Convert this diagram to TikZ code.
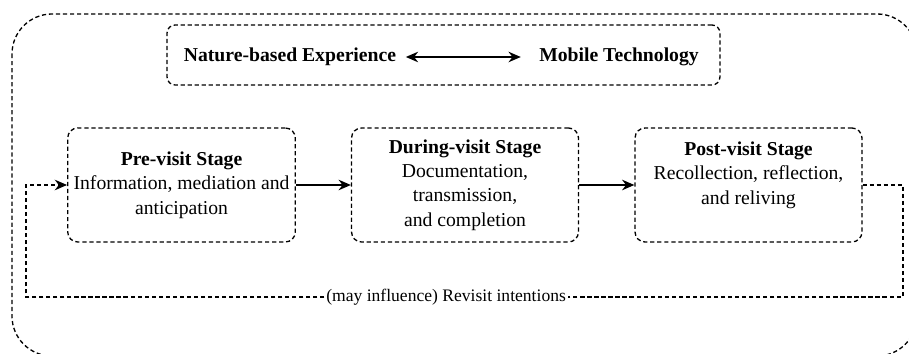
\documentclass[tikz,border=0pt]{standalone}
\usepackage{fontspec}
\setmainfont{Liberation Serif}
\usetikzlibrary{arrows.meta}

\begin{document}
\begin{tikzpicture}[
        x=0.02cm, y=-0.02cm,
        txt/.style={font=\fontsize{11.2pt}{13.9pt}\selectfont},
        dashline/.style={dash pattern=on 2.4pt off 1.6pt, line width=0.75pt},
        stage/.style={txt, dashline, draw, rounded corners=0.2cm, align=center, minimum width=4.54cm, minimum height=2.28cm},
        topbox/.style={dashline, draw, rounded corners=0.16cm, minimum width=11.06cm, minimum height=1.2cm},
        arrow/.style={-{Stealth[length=7pt, width=6pt]}, line width=0.75pt},
        loopback/.style={dashline, -{Stealth[length=7pt, width=6pt]}}
    ]
    \useasboundingbox (0,0) rectangle (909,354);
    \clip (0,0) rectangle (909,354);

    % outer frame, runs off the right edge
    \draw[dashline, rounded corners=0.8cm] (12,14) rectangle (917,356);

    % experience <-> technology
    \node[topbox] (top) at (443.5,55) {};
    \node[txt, font=\fontsize{11.2pt}{13.6pt}\selectfont\bfseries] (nature) at (290,57) {Nature-based Experience};
    \node[txt, font=\fontsize{11.2pt}{13.6pt}\selectfont\bfseries] (mobile) at (619,57) {Mobile Technology};
    \draw[{Stealth[length=7pt, width=6pt]}-{Stealth[length=7pt, width=6pt]}, line width=0.75pt,
        shorten <=2pt, shorten >=7pt] (nature) -- (mobile);

    % the three stages
    \node[stage] (pre) at (181.5,185) {\textbf{Pre-visit Stage}\\Information, mediation and\\anticipation};
    \node[stage] (during) at (465,185) {\textbf{During-visit Stage}\\Documentation,\\transmission,\\and completion};
    \node[stage] (post) at (748.5,185) {\textbf{Post-visit Stage}\\Recollection, reflection,\\and reliving\\\mbox{}};

    \draw[arrow] (pre) -- (during);
    \draw[arrow] (during) -- (post);

    % feedback to the next visit
    \coordinate (loopR) at (903,297);
    \coordinate (loopL) at (26,297);
    \draw[loopback] (post.east) -| (loopR) -- node[font=\fontsize{10pt}{12pt}\selectfont, fill=white, inner xsep=1pt, pos=0.521] (revisit) {(may influence) Revisit intentions} (loopL) |- (pre.west);

\end{tikzpicture}
\end{document}
